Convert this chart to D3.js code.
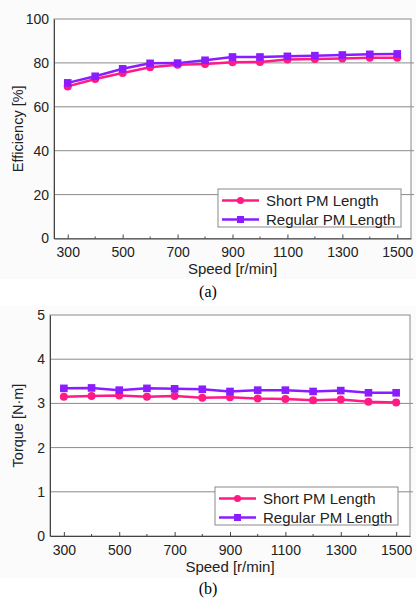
<!DOCTYPE html>
<html>
<head>
<meta charset="utf-8">
<script src="https://cdn.jsdelivr.net/npm/d3@7"></script>
<style>
  body { margin: 0; background: #fff; }
  svg { display: block; }
</style>
</head>
<body>
<div id="chart"></div>
<script>
// data
const speeds = [300, 400, 500, 600, 700, 800, 900, 1000, 1100, 1200, 1300, 1400, 1500];
const effShort = [69.3, 72.7, 75.4, 78.0, 79.2, 79.5, 80.3, 80.4, 81.5, 81.8, 82.0, 82.3, 82.4];
const effRegular = [70.9, 73.9, 77.3, 79.8, 79.9, 81.2, 82.7, 82.7, 83.0, 83.3, 83.6, 83.9, 84.1];
const torqueShort = [3.15, 3.17, 3.18, 3.15, 3.17, 3.13, 3.14, 3.11, 3.10, 3.07, 3.09, 3.04, 3.02];
const torqueRegular = [3.34, 3.35, 3.30, 3.34, 3.33, 3.32, 3.27, 3.30, 3.30, 3.27, 3.29, 3.24, 3.24];
const speedTicks = [300, 500, 700, 900, 1100, 1300, 1500];
const speedMinor = [400, 600, 800, 1000, 1200, 1400];
const effTicks = [0, 20, 40, 60, 80, 100];
const torqueTicks = [0, 1, 2, 3, 4, 5];
const seriesNames = ["Short PM Length", "Regular PM Length"];

const W = 416, H = 599;
const pink = "#ff1a85", purple = "#8a1cff";
const font = "Liberation Sans, Arial, sans-serif";

const svg = d3.select("#chart").append("svg")
  .attr("width", W)
  .attr("height", H);

function panel(opt) {
  const g = svg.append("g");

  // figure background
  g.append("rect")
    .attr("x", 0).attr("y", opt.bgTop)
    .attr("width", W).attr("height", opt.bgBottom - opt.bgTop)
    .attr("fill", "#fbfbfb");

  const x = d3.scaleLinear().domain([250, 1550]).range([opt.left, opt.right]);
  const y = d3.scaleLinear().domain(opt.yDomain).range([opt.bottom, opt.top]);

  // plot area
  g.append("rect")
    .attr("x", opt.left).attr("y", opt.top)
    .attr("width", opt.right - opt.left).attr("height", opt.bottom - opt.top)
    .attr("fill", "#fff");

  // gridlines
  g.append("g")
    .selectAll("line")
    .data(opt.yTicks.slice(1, -1))
    .join("line")
    .attr("x1", opt.left).attr("x2", opt.right + 3)
    .attr("y1", (d) => y(d)).attr("y2", (d) => y(d))
    .attr("stroke", "#8a8a8a")
    .attr("stroke-width", 1);

  // frame
  g.append("rect")
    .attr("x", opt.left).attr("y", opt.top)
    .attr("width", opt.right - opt.left).attr("height", opt.bottom - opt.top)
    .attr("fill", "none")
    .attr("stroke", "#8a8a8a")
    .attr("stroke-width", 1);

  // bottom axis (ticks inward)
  const xAxis = g.append("g")
    .attr("transform", `translate(0,${opt.bottom})`)
    .call(d3.axisBottom(x).tickValues(speedTicks).tickFormat(d3.format("d"))
      .tickSizeInner(-4).tickSizeOuter(0).tickPadding(9));
  xAxis.select(".domain").attr("stroke", "#444");
  xAxis.selectAll(".tick line").attr("stroke", "#444");
  xAxis.selectAll("text")
    .attr("font-family", font).attr("font-size", 14).attr("fill", "#222");

  g.append("g")
    .selectAll("line")
    .data(speedMinor)
    .join("line")
    .attr("x1", (d) => x(d)).attr("x2", (d) => x(d))
    .attr("y1", opt.bottom).attr("y2", opt.bottom - 2)
    .attr("stroke", "#444");

  // left axis
  const yAxis = g.append("g")
    .attr("transform", `translate(${opt.left},0)`)
    .call(d3.axisLeft(y).tickValues(opt.yTicks).tickFormat(d3.format("d"))
      .tickSize(0).tickPadding(5));
  yAxis.select(".domain").attr("stroke", "#444");
  yAxis.selectAll("text")
    .attr("font-family", font).attr("font-size", 14).attr("fill", "#222");

  // axis titles
  g.append("text")
    .attr("transform", `translate(${opt.yTitleX},${(opt.top + opt.bottom) / 2}) rotate(-90)`)
    .attr("text-anchor", "middle")
    .attr("font-family", font).attr("font-size", 14.5).attr("fill", "#222")
    .text(opt.yTitle);

  g.append("text")
    .attr("x", x(900)).attr("y", opt.xTitleY)
    .attr("text-anchor", "middle")
    .attr("font-family", font).attr("font-size", 15).attr("fill", "#222")
    .text("Speed [r/min]");

  g.append("text")
    .attr("x", 208).attr("y", opt.capY)
    .attr("text-anchor", "middle")
    .attr("font-family", "Liberation Serif, Times New Roman, serif")
    .attr("font-size", 16).attr("fill", "#000")
    .text(opt.caption);

  // series
  const line = d3.line().x((d) => x(d[0])).y((d) => y(d[1]));
  const series = [
    { vals: opt.series[0], color: pink, shape: "circle" },
    { vals: opt.series[1], color: purple, shape: "square" },
  ];
  series.forEach((s) => {
    const pts = speeds.map((sp, i) => [sp, s.vals[i]]);
    g.append("path")
      .datum(pts)
      .attr("d", line)
      .attr("fill", "none")
      .attr("stroke", s.color)
      .attr("stroke-width", 2.5);
    if (s.shape === "circle") {
      g.append("g").selectAll("circle").data(pts).join("circle")
        .attr("cx", (d) => x(d[0])).attr("cy", (d) => y(d[1]))
        .attr("r", 4).attr("fill", s.color);
    } else {
      g.append("g").selectAll("rect").data(pts).join("rect")
        .attr("x", (d) => x(d[0]) - 3.8).attr("y", (d) => y(d[1]) - 3.8)
        .attr("width", 7.6).attr("height", 7.6).attr("fill", s.color);
    }
  });

  // legend
  const lg = g.append("g").attr("transform", `translate(${opt.legend[0]},${opt.legend[1]})`);
  lg.append("rect")
    .attr("x", 0).attr("y", 0)
    .attr("width", 183).attr("height", 38)
    .attr("fill", "#fff")
    .attr("stroke", "#8a8a8a");
  series.forEach((s, i) => {
    const cy = 11.5 + i * 19;
    lg.append("line")
      .attr("x1", 4).attr("x2", 41)
      .attr("y1", cy).attr("y2", cy)
      .attr("stroke", s.color).attr("stroke-width", 2.5);
    if (s.shape === "circle") {
      lg.append("circle").attr("cx", 22.5).attr("cy", cy).attr("r", 3.6).attr("fill", s.color);
    } else {
      lg.append("rect").attr("x", 19).attr("y", cy - 3.5).attr("width", 7).attr("height", 7).attr("fill", s.color);
    }
    lg.append("text")
      .attr("x", 48).attr("y", cy)
      .attr("dy", "0.36em")
      .attr("font-family", font).attr("font-size", 15).attr("fill", "#222")
      .text(seriesNames[i]);
  });
}

panel({
  bgTop: 0, bgBottom: 279,
  left: 54, right: 411, top: 19, bottom: 238.5,
  yDomain: [0, 100], yTicks: effTicks,
  yTitle: "Efficiency [%]", yTitleX: 23,
  xTitleY: 274, caption: "(a)", capY: 297,
  series: [effShort, effRegular],
  legend: [218, 189],
});

panel({
  bgTop: 306, bgBottom: 578,
  left: 50, right: 410, top: 315, bottom: 536,
  yDomain: [0, 5], yTicks: torqueTicks,
  yTitle: "Torque [N\u00b7m]", yTitleX: 23,
  xTitleY: 572, caption: "(b)", capY: 594,
  series: [torqueShort, torqueRegular],
  legend: [215, 487],
});
</script>
</body>
</html>
